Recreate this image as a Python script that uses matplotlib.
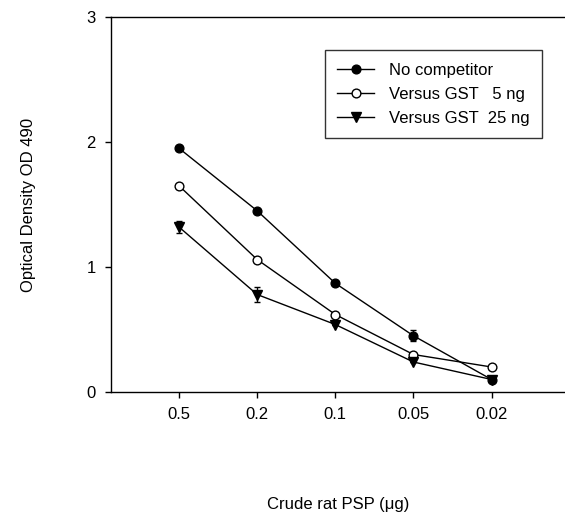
import matplotlib

matplotlib.use("Agg")
import matplotlib.pyplot as plt
import numpy as np

plt.rcParams["font.family"] = ["Liberation Sans", "DejaVu Sans"]

# Data
doses = ["0.5", "0.2", "0.1", "0.05", "0.02"]
no_comp = [1.95, 1.45, 0.87, 0.45, 0.10]
no_comp_err = [0.0, 0.0, 0.0, 0.045, 0.0]
gst_5 = [1.65, 1.06, 0.62, 0.30, 0.20]
gst_5_err = [0.0, 0.0, 0.0, 0.0, 0.0]
gst_25 = [1.32, 0.78, 0.54, 0.24, 0.10]
gst_25_err = [0.05, 0.06, 0.0, 0.0, 0.0]

x = np.arange(1, len(doses) + 1)

fig = plt.figure(figsize=(5.65, 5.19), dpi=100)
ax = fig.add_axes([111 / 565, 127 / 519, 454 / 565, 375 / 519])

# error bars (kept out of the legend)
ekw = dict(fmt="none", ecolor="black", elinewidth=1.0, capsize=2.5, capthick=1.0)
ax.errorbar(x, no_comp, yerr=no_comp_err, **ekw)
ax.errorbar(x, gst_5, yerr=gst_5_err, **ekw)
ax.errorbar(x, gst_25, yerr=gst_25_err, **ekw)

ax.plot(x, no_comp, "-o", color="black", lw=1.0, ms=6.3,
        mfc="black", mec="black", label="No competitor")
ax.plot(x, gst_5, "-o", color="black", lw=1.0, ms=6.3,
        mfc="white", mec="black", label="Versus GST   5 ng")
ax.plot(x, gst_25, "-v", color="black", lw=1.0, ms=6.5,
        mfc="black", mec="black", label="Versus GST  25 ng")

ax.set_xlim(0.13, 5.94)
ax.set_ylim(0, 3)
ax.set_xticks(x)
ax.set_xticklabels(doses)
ax.set_yticks([0, 1, 2, 3])
ax.tick_params(direction="out", length=4, width=1, labelsize=12, pad=7)
ax.spines["right"].set_visible(False)
for s in ["left", "bottom", "top"]:
    ax.spines[s].set_linewidth(1.0)

ax.set_xlabel("Crude rat PSP (\u03bcg)", fontsize=12)
ax.xaxis.set_label_coords(0.5, -0.28)
ax.set_ylabel("Optical Density OD 490", fontsize=12)
ax.yaxis.set_label_coords(-0.165, 0.5)

leg = ax.legend(loc="upper right", bbox_to_anchor=(542 / 565, 1 - 50 / 519),
                bbox_transform=fig.transFigure, fontsize=12, frameon=True,
                fancybox=False, edgecolor="black", handlelength=2.2,
                handletextpad=0.9, labelspacing=0.55, borderpad=0.75,
                borderaxespad=0)
leg.get_frame().set_linewidth(1.0)

fig.savefig("out.png", dpi=100)
